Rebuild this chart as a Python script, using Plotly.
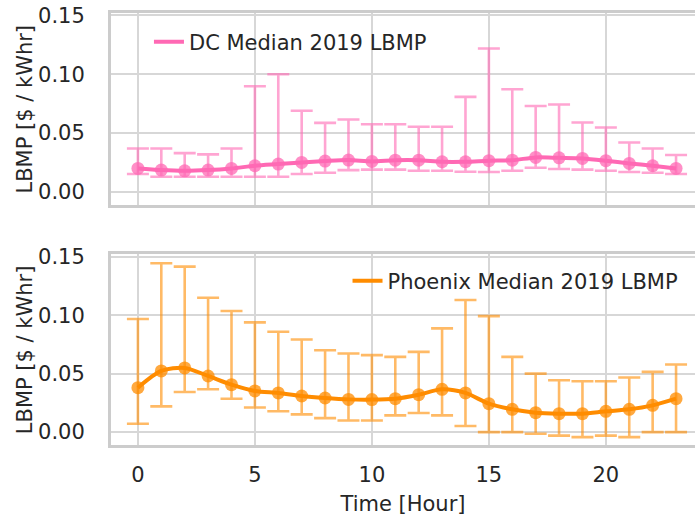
import plotly.graph_objects as go
from plotly.subplots import make_subplots

hours = list(range(24))

dc_median = [0.020, 0.0186, 0.018, 0.0186, 0.020, 0.0223, 0.0237, 0.0251, 0.0263, 0.0271,
             0.026, 0.027, 0.027, 0.0257, 0.0257, 0.0266, 0.027, 0.0294, 0.029, 0.0285,
             0.0266, 0.0243, 0.0223, 0.020]
dc_upper = [0.037, 0.037, 0.033, 0.032, 0.037, 0.0898, 0.100, 0.069, 0.0587, 0.0616,
            0.0576, 0.0576, 0.0554, 0.0554, 0.0808, 0.1218, 0.0873, 0.0731, 0.0743, 0.059,
            0.0548, 0.042, 0.037, 0.0314]
dc_lower = [0.0153, 0.013, 0.013, 0.013, 0.013, 0.013, 0.013, 0.0153, 0.0164, 0.0186,
            0.019, 0.019, 0.018, 0.018, 0.0172, 0.017, 0.018, 0.0206, 0.0195, 0.019,
            0.018, 0.017, 0.0164, 0.0153]

px_median = [0.038, 0.0523, 0.0549, 0.048, 0.0406, 0.0352, 0.0335, 0.0309, 0.0292, 0.028,
             0.0278, 0.0286, 0.032, 0.0366, 0.0335, 0.0243, 0.0195, 0.0166, 0.0158, 0.0158,
             0.0178, 0.0195, 0.0229, 0.0286]
px_upper = [0.0967, 0.1444, 0.1415, 0.1149, 0.1035, 0.0938, 0.0858, 0.0792, 0.070, 0.0672,
            0.0658, 0.0643, 0.0686, 0.0887, 0.113, 0.0992, 0.0643, 0.050, 0.0443, 0.0435,
            0.0435, 0.0467, 0.0515, 0.0578]
px_lower = [0.0072, 0.022, 0.0343, 0.0366, 0.0286, 0.021, 0.0178, 0.0152, 0.012, 0.010,
            0.010, 0.0143, 0.0163, 0.0143, 0.0052, 0.0, 0.0, -0.0014, -0.003, -0.0043,
            -0.003, -0.0043, 0.0, 0.0]

y_title = "LBMP [$ / kWhr]"
x_title = "Time [Hour]"

series = [
    ("DC Median 2019 LBMP", dc_median, dc_upper, dc_lower, "255,105,180", 1, "legend"),
    ("Phoenix Median 2019 LBMP", px_median, px_upper, px_lower, "255,140,0", 2, "legend2"),
]

fig = make_subplots(rows=2, cols=1)

for name, med, up, lo, rgb, row, leg in series:
    fig.add_trace(go.Scatter(
        x=hours, y=med, mode="markers", showlegend=False,
        marker=dict(size=13, color=f"rgba({rgb},0.75)"),
        error_y=dict(type="data", symmetric=False,
                     array=[u - m for u, m in zip(up, med)],
                     arrayminus=[m - l for m, l in zip(med, lo)],
                     color=f"rgba({rgb},0.6)", thickness=2.6, width=11),
        hoverinfo="skip",
    ), row=row, col=1)
    fig.add_trace(go.Scatter(
        x=hours, y=med, mode="lines", name=name, legend=leg,
        line=dict(color=f"rgb({rgb})", width=4, shape="spline", smoothing=0.8),
    ), row=row, col=1)

font_color = "#262626"
grid_color = "#d7d7d7"
spine_color = "#cccccc"
fs = 21

common_x = dict(range=[-1.15, 23.81], tickvals=[0, 5, 10, 15, 20], showgrid=True,
                gridcolor=grid_color, gridwidth=2, zeroline=False, showline=True,
                mirror=True, linecolor=spine_color, linewidth=3, automargin=False,
                ticks="outside", ticklen=9, tickcolor="rgba(0,0,0,0)",
                tickfont=dict(size=fs, color=font_color))
common_y = dict(range=[-0.011, 0.152], tickvals=[0.0, 0.05, 0.10, 0.15],
                tickformat=".2f", showgrid=True, gridcolor=grid_color, gridwidth=2,
                zeroline=False, showline=True, linecolor=spine_color, linewidth=3,
                automargin=False, ticklabeloverflow="allow",
                ticks="outside", ticklen=19, tickcolor="rgba(0,0,0,0)",
                tickfont=dict(size=fs, color=font_color))

domains = [[0.5556, 1.0], [0.0, 0.4414]]

fig.update_layout(
    width=695, height=519,
    margin=dict(l=111, r=0, t=13, b=74),
    paper_bgcolor="white", plot_bgcolor="white",
    font=dict(family="DejaVu Sans", color=font_color),
    xaxis=dict(common_x, domain=[0, 1], showticklabels=False, matches="x2"),
    xaxis2=dict(common_x, domain=[0, 1],
                title=dict(text=x_title, font=dict(size=fs, color=font_color), standoff=11)),
    yaxis=dict(common_y, domain=domains[0]),
    yaxis2=dict(common_y, domain=domains[1]),
    legend=dict(x=0.065, y=0.9329, xanchor="left", yanchor="middle",
                bgcolor="rgba(0,0,0,0)", font=dict(size=fs, color=font_color)),
    legend2=dict(x=0.405, y=0.3796, xanchor="left", yanchor="middle",
                 bgcolor="rgba(0,0,0,0)", font=dict(size=fs, color=font_color)),
)

for d in domains:
    fig.add_annotation(text=y_title, xref="paper", yref="paper",
                       x=-0.148, y=(d[0] + d[1]) / 2, xanchor="center", yanchor="middle",
                       textangle=-90, showarrow=False,
                       font=dict(size=fs, color=font_color))

fig.write_html("out.html", config={"displayModeBar": False},
               post_script="document.body.style.margin='0';document.body.style.overflow='hidden';")
